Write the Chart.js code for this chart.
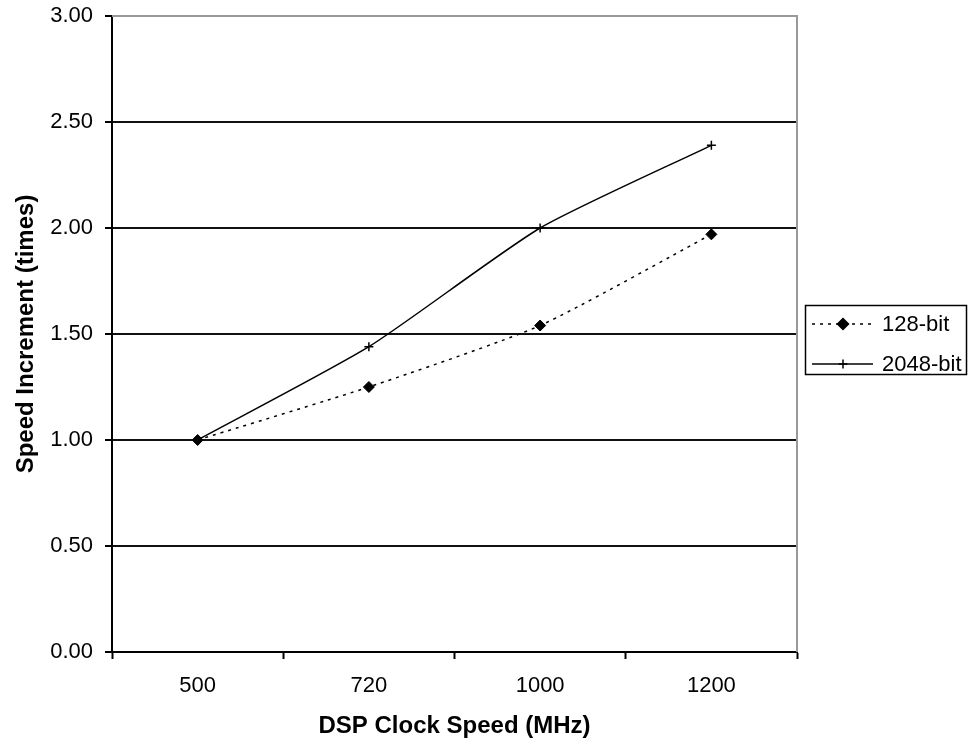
<!DOCTYPE html>
<html>
<head>
<meta charset="utf-8">
<script src="https://cdn.jsdelivr.net/npm/chart.js@4.4.0/dist/chart.umd.min.js"></script>
<style>
  html, body { margin: 0; padding: 0; background: #fff; }
  #wrap { width: 970px; height: 749px; }
</style>
</head>
<body>
<div id="wrap"><canvas id="grafico" width="970" height="749"></canvas></div>
<script>
// datos
var velocidades = ["500", "720", "1000", "1200"];
var serie128 = [1.00, 1.25, 1.54, 1.97];
var serie2048 = [1.00, 1.44, 2.00, 2.39];
var ticksY = [0, 0.5, 1, 1.5, 2, 2.5, 3];

var fuente = "'Liberation Sans', Arial, sans-serif";

// borde gris del area del grafico (arriba y derecha) + leyenda con recuadro
const bordeYLeyenda = {
  id: "bordeYLeyenda",
  afterDraw: (chart) => {
    const ctx = chart.ctx;
    const a = chart.chartArea;
    ctx.save();
    ctx.strokeStyle = "#999";
    ctx.lineWidth = 2;
    ctx.beginPath();
    ctx.moveTo(a.left, a.top);
    ctx.lineTo(a.right, a.top);
    ctx.lineTo(a.right, a.bottom);
    ctx.stroke();

    // leyenda
    ctx.strokeStyle = "#000";
    ctx.lineWidth = 1.5;
    ctx.strokeRect(805.5, 305.5, 161, 69);
    ctx.font = "22px " + fuente;
    ctx.textBaseline = "middle";
    ctx.fillStyle = "#000";
    chart.data.datasets.forEach((ds, i) => {
      let y = 324 + i * 40;
      ctx.beginPath();
      ctx.setLineDash(ds.borderDash || []);
      ctx.lineWidth = ds.borderWidth;
      ctx.strokeStyle = ds.borderColor;
      ctx.moveTo(812, y);
      ctx.lineTo(873, y);
      ctx.stroke();
      ctx.setLineDash([]);
      Chart.helpers.drawPoint(ctx, {
        pointStyle: ds.pointStyle,
        radius: ds.pointRadius,
        rotation: 0,
        borderWidth: ds.pointBorderWidth || 1
      }, 843, y);
      ctx.fillStyle = "#000";
      ctx.fillText(ds.label, 882, y + 1);
    });
    ctx.restore();
  }
};

const config = {
  type: "line",
  data: {
    labels: velocidades,
    datasets: [
      {
        label: "128-bit",
        data: serie128,
        borderColor: "#000",
        backgroundColor: "#000",
        borderWidth: 1.5,
        borderDash: [3, 5],
        pointStyle: "rectRot",
        pointRadius: 5.5,
        pointBorderWidth: 1,
        tension: 0.2
      },
      {
        label: "2048-bit",
        data: serie2048,
        borderColor: "#000",
        backgroundColor: "#000",
        borderWidth: 1.5,
        pointStyle: "cross",
        pointRadius: 4.5,
        pointBorderWidth: 1.5,
        tension: 0.2
      }
    ]
  },
  options: {
    responsive: false,
    animation: false,
    layout: { padding: { left: 0, top: 16, right: 173, bottom: 0 } },
    plugins: {
      legend: { display: false },
      tooltip: { enabled: false }
    },
    scales: {
      x: {
        offset: true,
        afterFit: (s) => { s.height = 97; },
        grid: {
          offset: true,
          drawOnChartArea: false,
          drawTicks: true,
          tickLength: 7,
          tickColor: "#000",
          tickWidth: 2
        },
        border: { color: "#000", width: 2 },
        ticks: {
          color: "#000",
          padding: 14,
          font: { family: fuente, size: 22 }
        },
        title: {
          display: true,
          text: "DSP Clock Speed (MHz)",
          color: "#000",
          font: { family: fuente, size: 24, weight: "bold" },
          padding: { top: 0, bottom: 8 }
        }
      },
      y: {
        min: 0,
        max: 3,
        afterFit: (s) => { s.width = 112; s.paddingTop = 0; s.paddingBottom = 0; },
        afterBuildTicks: (s) => { s.ticks = ticksY.map((v) => ({ value: v })); },
        grid: {
          color: (c) => (c.tick && c.tick.value === 3 ? "#999" : "#111"),
          lineWidth: 2,
          tickLength: 7,
          tickColor: "#000",
          tickWidth: 2
        },
        border: { color: "#000", width: 2 },
        ticks: {
          color: "#000",
          padding: 12,
          font: { family: fuente, size: 22 },
          callback: (v) => Number(v).toFixed(2)
        },
        title: {
          display: true,
          text: "Speed Increment (times)",
          color: "#000",
          font: { family: fuente, size: 24, weight: "bold" },
          padding: { top: 12, bottom: 0 }
        }
      }
    }
  },
  plugins: [bordeYLeyenda]
};

const grafico = new Chart(document.getElementById("grafico"), config);
</script>
</body>
</html>
